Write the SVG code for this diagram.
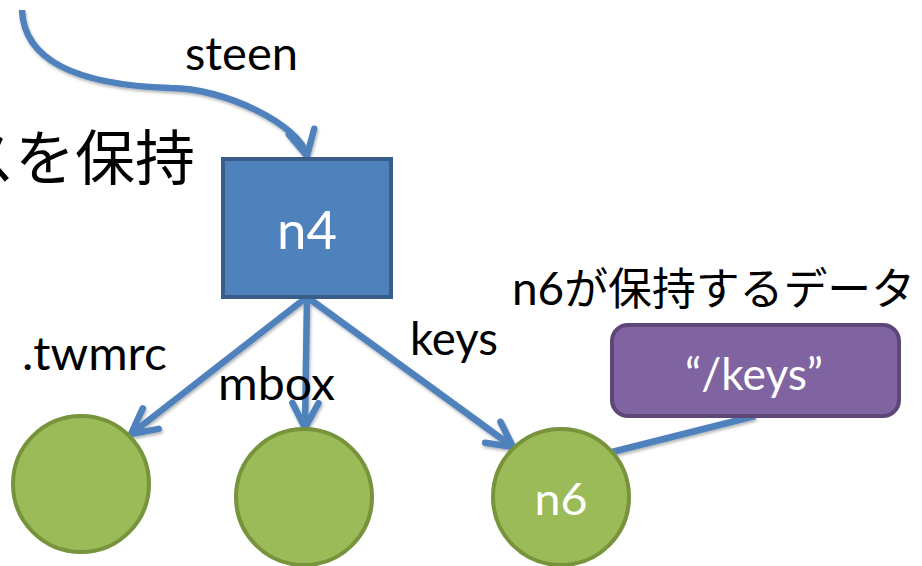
<svg xmlns="http://www.w3.org/2000/svg" width="922" height="566" viewBox="0 0 922 566">
<style>
.lbl{font-family:Lato,"Noto Sans CJK JP",sans-serif;font-size:46px;fill:#000}
.wt{font-family:Lato,"Noto Sans CJK JP",sans-serif;fill:#fff;text-anchor:middle}
.jp{font-family:"Noto Sans CJK JP",sans-serif;fill:#000}
.edge{fill:none;stroke:#4F81BD;stroke-width:6.5}
.circ{fill:#9BBB59;stroke:#77933C;stroke-width:4}
</style>
<defs>
<filter id="sh" x="-20%" y="-20%" width="140%" height="140%">
<feDropShadow dx="1" dy="2" stdDeviation="1.5" flood-color="#000" flood-opacity="0.3"/>
</filter>
<marker id="ah" viewBox="-32 -20 40 40" refX="0" refY="0" markerWidth="40" markerHeight="40" markerUnits="userSpaceOnUse" orient="auto" overflow="visible">
<path d="M -25 -13 L 0 0 L -25 13" fill="none" stroke="#4F81BD" stroke-width="6.5" stroke-linecap="round" stroke-linejoin="round"/>
</marker>
</defs>
<rect width="922" height="566" fill="#fff"/>
<text class="jp" x="-45" y="180" font-size="60" textLength="240" lengthAdjust="spacingAndGlyphs">スを保持</text>
<text class="lbl" x="512" y="305" textLength="403" lengthAdjust="spacingAndGlyphs">n6<tspan font-family="Noto Sans CJK JP" font-size="44">が保持するデータ</tspan></text>
<g id="connectors" filter="url(#sh)">
<path class="edge" d="M 22 10 C 24 62, 80 85, 170 88 C 225 88, 300 125, 307 156" marker-end="url(#ah)"/>
<line class="edge" x1="307" y1="297" x2="131" y2="434" marker-end="url(#ah)"/>
<line class="edge" x1="307" y1="297" x2="305" y2="428" marker-end="url(#ah)"/>
<line class="edge" x1="307" y1="297" x2="513" y2="447" marker-end="url(#ah)"/>
<line class="edge" x1="755" y1="416" x2="608" y2="453"/>
</g>
<g id="edge-labels">
<text class="lbl" x="185" y="70" textLength="113" lengthAdjust="spacingAndGlyphs">steen</text>
<text class="lbl" x="22" y="370" textLength="145" lengthAdjust="spacingAndGlyphs">.twmrc</text>
<text class="lbl" x="218" y="400" textLength="117" lengthAdjust="spacingAndGlyphs">mbox</text>
<text class="lbl" x="410" y="355" textLength="88" lengthAdjust="spacingAndGlyphs">keys</text>
</g>
<g id="n4">
<rect x="223" y="159" width="168" height="138" fill="#4F81BD" stroke="#385D8A" stroke-width="4"/>
<text class="wt" x="307" y="249" font-size="52" textLength="60" lengthAdjust="spacingAndGlyphs">n4</text>
</g>
<g id="twmrc-node">
<circle class="circ" cx="81" cy="484" r="68"/>
</g>
<g id="mbox-node">
<circle class="circ" cx="304" cy="497" r="68"/>
</g>
<g id="n6">
<circle class="circ" cx="561" cy="497" r="68"/>
<text class="wt" x="561" y="515" font-size="44" textLength="53" lengthAdjust="spacingAndGlyphs">n6</text>
</g>
<g id="data-box">
<rect x="612" y="325" width="287" height="91" rx="16" fill="#8064A2" stroke="#5C4776" stroke-width="4"/>
<text class="wt" x="754" y="390" font-size="44" textLength="138" lengthAdjust="spacingAndGlyphs">“/keys”</text>
</g>
</svg>
